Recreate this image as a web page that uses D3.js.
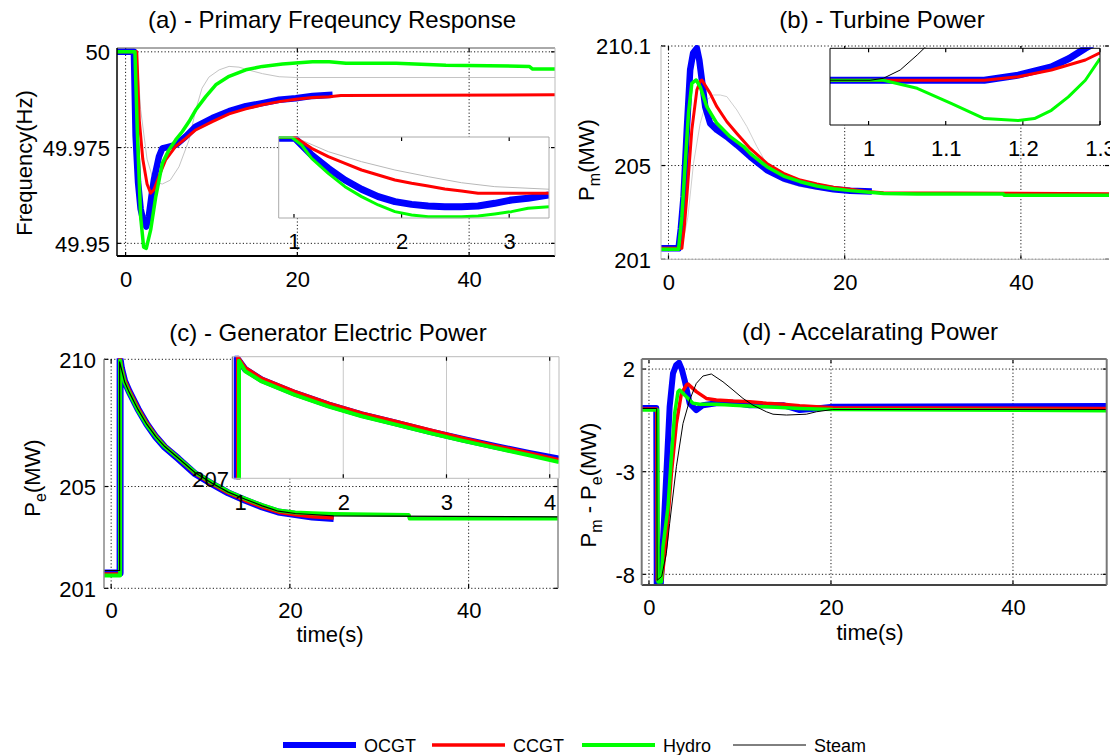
<!DOCTYPE html>
<html><head><meta charset="utf-8">
<script src="https://cdn.jsdelivr.net/npm/d3@7"></script>
<style>
body{margin:0;background:#fff}
svg{display:block}
text{font-family:"Liberation Sans",Arial,Helvetica,sans-serif;fill:#000}
</style>
</head><body><script>
// ---------------- DATA ----------------
const seriesNames = ["OCGT","CCGT","Hydro","Steam"];
const xTicksMain = [0,20,40];
const xTickLabelsMain = ["0","20","40"];

// (a) Primary frequency response [t (s), f (Hz)]
const freqTicks = [49.95,49.975,50];
const freqTickLabels = ["49.95","49.975","50"];
const freqOCGT = [[-1,50],[0.97,50],[1.17,49.978],[1.45,49.966],[1.75,49.959],[2.1,49.9555],[2.41,49.9544],[2.7,49.957],[3.0,49.962],[3.3,49.9666],[3.89,49.9727],[4.28,49.9748],[5.0,49.9752],[5.83,49.9757],[7.0,49.9779],[8.16,49.9805],[10.1,49.9827],[12.05,49.9845],[14.0,49.9858],[15.94,49.9866],[17.88,49.9875],[19.83,49.9879],[21.77,49.9885],[24.1,49.9888]];
const freqCCGT = [[-1,50],[1.3,50],[1.6,49.982],[2.0,49.972],[2.5,49.9655],[2.92,49.9631],[3.3,49.964],[3.89,49.9675],[4.66,49.9718],[5.83,49.9753],[7.0,49.9774],[8.16,49.9796],[10.1,49.9818],[12.05,49.9838],[14.0,49.9851],[15.94,49.9862],[17.88,49.987],[19.83,49.9876],[21.77,49.9881],[23.71,49.9883],[25.07,49.9886],[50,49.9888]];
const freqHydro = [[-1,50],[1.09,50],[1.36,49.9796],[1.75,49.957],[2.1,49.949],[2.41,49.9487],[2.92,49.9535],[3.5,49.962],[4.28,49.9709],[5.05,49.9744],[5.83,49.977],[6.61,49.9792],[7.39,49.9818],[8.16,49.9848],[9.33,49.9883],[10.5,49.9914],[12.05,49.9936],[14.0,49.9953],[15.94,49.9962],[18.27,49.9968],[21.77,49.9974],[23.71,49.9974],[25.66,49.997],[31.5,49.997],[37.3,49.9965],[47.0,49.9962],[47.4,49.9955],[50,49.9955]];
const freqSteam = [[-1,50],[1.3,50],[1.75,49.985],[2.5,49.972],[3.3,49.966],[4.28,49.9655],[5.2,49.9665],[6.22,49.970],[7.39,49.977],[8.16,49.9848],[8.9,49.9905],[9.7,49.9934],[10.9,49.9953],[12.05,49.9962],[13.2,49.996],[14.4,49.9952],[15.94,49.9943],[17.88,49.9935],[19.83,49.9933],[50,49.9933]];
// (a) inset
const insetFreqTicks = [1,2,3];
const insetFreqOCGT = [[0.858,49.9996],[1.009,49.9996],[1.071,49.9952],[1.164,49.9886],[1.319,49.9798],[1.474,49.9721],[1.628,49.966],[1.783,49.9611],[1.938,49.9578],[2.093,49.956],[2.247,49.9549],[2.402,49.9545],[2.557,49.9545],[2.711,49.9549],[2.866,49.9567],[3.021,49.9589],[3.175,49.96],[3.37,49.9622]];
const insetFreqCCGT = [[0.858,50.0003],[1.009,50.0003],[1.164,49.993],[1.319,49.9875],[1.474,49.9831],[1.628,49.9787],[1.783,49.9754],[1.938,49.9721],[2.093,49.9699],[2.247,49.9681],[2.402,49.9662],[2.557,49.9649],[2.711,49.9633],[2.866,49.9633],[3.37,49.9633]];
const insetFreqHydro = [[0.858,50.0003],[0.979,50.0003],[1.071,49.9952],[1.164,49.9864],[1.319,49.9765],[1.474,49.9677],[1.628,49.9611],[1.783,49.9556],[1.938,49.9512],[2.093,49.949],[2.247,49.9479],[2.557,49.9479],[2.711,49.9483],[2.866,49.9497],[3.021,49.9512],[3.175,49.9534],[3.37,49.9545]];
const insetFreqSteam = [[0.858,50.0003],[1.009,50.0003],[1.319,49.9908],[1.628,49.9842],[1.938,49.9787],[2.247,49.9743],[2.557,49.9703],[2.866,49.9677],[3.37,49.966]];

// (b) Turbine power [t, MW]
const powTicks = [201,205,210.1];
const powTickLabels = ["201","205","210.1"];
const powOCGT = [[-1,201.47],[1.14,201.47],[1.4,202.3],[1.71,203.67],[2.08,206.52],[2.46,209.08],[2.8,209.8],[3.22,210.0],[3.5,209.5],[3.79,208.65],[4.17,207.51],[4.73,206.8],[5.49,206.52],[6.63,206.23],[7.76,205.88],[9.27,205.38],[11.17,204.81],[13.06,204.45],[14.95,204.24],[16.84,204.1],[18.73,203.99],[20.62,203.92],[23.08,203.89]];
const powCCGT = [[-1,201.47],[1.52,201.47],[1.8,202.4],[2.08,203.67],[2.65,206.52],[3.22,208.22],[3.6,208.6],[3.79,208.65],[4.73,208.08],[5.49,207.51],[6.63,206.87],[7.76,206.37],[9.27,205.73],[11.17,205.09],[13.06,204.67],[14.95,204.38],[16.84,204.21],[18.73,204.07],[20.62,203.99],[22.52,203.89],[24.41,203.84],[50,203.8]];
const powHydro = [[-1,201.43],[1.14,201.43],[1.52,202.82],[1.9,205.09],[2.27,207.23],[2.65,208.51],[3.03,208.62],[3.14,208.65],[3.6,208.36],[4.35,207.51],[5.49,206.8],[7.0,206.23],[8.52,205.81],[9.27,205.52],[11.17,204.95],[13.06,204.55],[14.95,204.31],[16.84,204.13],[18.73,204.01],[20.62,203.93],[22.52,203.87],[24.41,203.81],[28.19,203.79],[38,203.79],[38.1,203.73],[50,203.73]];
const powSteam = [[-1,201.47],[1.5,201.47],[2.2,202.8],[2.84,205.09],[3.6,206.8],[4.35,207.8],[5.11,208.01],[5.87,208.01],[6.63,207.94],[7.76,207.37],[8.9,206.66],[10.03,205.81],[11.54,204.81],[13.06,204.31],[14.95,204.1],[16.84,203.99],[18.73,203.89],[20.62,203.84],[50,203.81]];
// (b) inset
const insetPowTicks = [1,1.1,1.2,1.3];
const insetPowOCGT = [[0.95,201.45],[1.15,201.45],[1.194,201.458],[1.237,201.471],[1.26,201.484],[1.281,201.5],[1.29,201.506]];
const insetPowCCGT = [[0.95,201.45],[1.15,201.45],[1.194,201.4556],[1.237,201.466],[1.281,201.4817],[1.30,201.493]];
const insetPowHydro = [[0.95,201.45],[1.019,201.45],[1.063,201.4374],[1.107,201.414],[1.15,201.39],[1.194,201.387],[1.215,201.39],[1.237,201.403],[1.259,201.424],[1.281,201.45],[1.30,201.484]];
const insetPowSteam = [[0.95,201.45],[1.002,201.45],[1.019,201.453],[1.041,201.466],[1.063,201.4895],[1.072,201.5],[1.08,201.51]];

// (c) Generator electric power [t, MW]
const elecTicks = [201,205,210];
const elecTickLabels = ["201","205","210"];
const elecOCGT = [[-0.8,201.6],[1.0,201.6],[1.0,210],[1.15,209.65],[1.5,209.15],[2.0,208.75],[3.0,208.05],[4.0,207.45],[5.0,206.95],[6.0,206.55],[7.5,206.1],[9.4,205.5],[11.3,205.1],[13.1,204.75],[15,204.46],[16.9,204.2],[18.7,204.0],[20.6,203.9],[22.5,203.8],[24.9,203.74]];
const elecCCGT = [[-0.8,201.55],[1.0,201.55],[1.0,210],[1.15,209.68],[1.5,209.18],[2.0,208.78],[3.0,208.08],[4.0,207.48],[5.0,206.98],[6.0,206.58],[7.5,206.12],[9.4,205.52],[11.3,205.11],[13.1,204.76],[15,204.46],[16.9,204.2],[18.7,204.0],[20.6,203.9],[22.5,203.82],[24.9,203.77]];
const elecHydro = [[-0.8,201.5],[1.0,201.5],[1.0,209.95],[1.15,209.6],[1.5,209.1],[2.0,208.7],[3.0,208.0],[4.0,207.42],[5.0,206.95],[6.0,206.56],[7.5,206.12],[9.4,205.55],[11.3,205.15],[13.1,204.8],[15,204.52],[16.9,204.27],[18.7,204.06],[20.6,203.98],[22.5,203.95],[24.9,203.92],[33.3,203.88],[33.4,203.74],[50,203.74]];
const elecSteam = [[-0.8,201.7],[0.95,201.7],[0.95,209.9],[1.15,209.62],[1.5,209.12],[2.0,208.72],[3.0,208.03],[4.0,207.44],[5.0,206.96],[6.0,206.57],[7.5,206.12],[9.4,205.54],[11.3,205.13],[13.1,204.78],[15,204.5],[16.9,204.24],[18.7,204.03],[20.6,203.94],[22.5,203.9],[24.9,203.85],[50,203.81]];
// (c) inset
const insetElecTicks = [1,2,3,4];
const insetElecYTick = [207];
const insetElecOCGT = [[0.925,206],[0.97,206],[0.97,209.97],[1.05,209.69],[1.21,209.43],[1.53,209.1],[1.86,208.81],[2.18,208.57],[2.5,208.37],[2.83,208.16],[3.15,207.97],[3.47,207.79],[3.8,207.62],[4.09,207.48]];
const insetElecCCGT = [[0.925,206],[0.98,206],[0.98,209.98],[1.05,209.72],[1.21,209.46],[1.53,209.13],[1.86,208.84],[2.18,208.6],[2.5,208.4],[2.83,208.19],[3.15,207.99],[3.47,207.8],[3.8,207.62],[4.09,207.45]];
const insetElecHydro = [[0.925,206],[0.99,206],[0.99,209.9],[1.05,209.64],[1.21,209.39],[1.53,209.06],[1.86,208.77],[2.18,208.53],[2.5,208.33],[2.83,208.12],[3.15,207.93],[3.47,207.75],[3.8,207.57],[4.09,207.4]];

// (d) Accelerating power [t, MW]
const accTicks = [-8,-3,2];
const accTickLabels = ["-8","-3","2"];
const accOCGT = [[-0.8,0.1],[0.8,0.1],[0.85,-8.45],[1.3,-8.45],[1.54,-6.34],[1.91,-3.09],[2.27,0.16],[2.64,1.79],[3.0,2.2],[3.3,2.31],[3.6,2.0],[3.92,1.46],[4.47,0.33],[5.2,0.0],[5.93,0.24],[7.4,0.33],[9.23,0.36],[11.07,0.24],[14.73,0.24],[16.56,0.0],[18.4,0.08],[20.2,0.16],[50.3,0.2]];
const accCCGT = [[-0.8,0.05],[0.85,0.05],[0.9,-8.29],[1.4,-8.29],[1.91,-6.34],[2.46,-3.09],[3.01,-0.65],[3.56,0.81],[4.11,1.22],[4.29,1.27],[5.2,0.9],[6.3,0.57],[7.4,0.49],[9.23,0.44],[11.07,0.41],[12.9,0.33],[14.73,0.29],[16.56,0.21],[20.2,0.11],[50.3,0.08]];
const accHydro = [[-0.8,0.0],[0.95,0.0],[1.0,-8.37],[1.36,-8.37],[1.54,-6.67],[2.09,-4.72],[2.46,-2.28],[2.82,-0.16],[3.19,0.9],[3.37,0.98],[4.11,0.65],[4.84,0.33],[5.57,0.29],[7.4,0.29],[9.23,0.24],[12.9,0.16],[16.56,0.08],[20.2,0.03],[50.3,-0.03]];
const accSteam = [[-0.8,0.08],[0.85,0.08],[0.9,-8.29],[1.4,-8.1],[1.9,-7.0],[2.27,-5.53],[3.01,-2.76],[3.74,-0.65],[4.47,0.49],[5.2,1.3],[5.93,1.66],[6.85,1.76],[8.13,1.38],[9.23,0.98],[10.33,0.57],[11.43,0.24],[12.9,-0.08],[13.63,-0.2],[15.1,-0.24],[17.3,-0.2],[18.4,-0.08],[20.2,0.03],[50.3,0.03]];

// ---------------- DRAWING ----------------
const W = 1110, H = 755;
const FS = 22;
const colors = {OCGT:"#0000ff", CCGT:"#ff0000", Hydro:"#00ff00", Steam:"#000000"};
const svg = d3.select("body").append("svg").attr("width", W).attr("height", H);
const defs = svg.append("defs");
let clipN = 0;

function area(cfg){
  const x = d3.scaleLinear().domain(cfg.xd).range([cfg.x0, cfg.x1]);
  const y = d3.scaleLinear().domain(cfg.yd).range([cfg.y1, cfg.y0]);
  const g = svg.append("g");
  if (cfg.bg) g.append("rect").attr("x",cfg.x0).attr("y",cfg.y0).attr("width",cfg.x1-cfg.x0).attr("height",cfg.y1-cfg.y0).attr("fill","#fff");
  const gs = cfg.gridStyle || {stroke:"#000", w:0.9, dash:"1.2,2.2"};
  (cfg.xGrid||[]).forEach(t=>{
    g.append("line").attr("x1",x(t)).attr("x2",x(t)).attr("y1",cfg.y0).attr("y2",cfg.y1)
      .attr("stroke",gs.stroke).attr("stroke-width",gs.w).attr("stroke-dasharray",gs.dash);
  });
  (cfg.yGrid||[]).forEach(v=>{
    g.append("line").attr("y1",y(v)).attr("y2",y(v)).attr("x1",cfg.x0).attr("x2",cfg.x1)
      .attr("stroke",gs.stroke).attr("stroke-width",gs.w).attr("stroke-dasharray",gs.dash);
  });
  (cfg.tickX||[]).forEach(t=>{
    g.append("line").attr("x1",x(t)).attr("x2",x(t)).attr("y1",cfg.y1).attr("y2",cfg.y1-4).attr("stroke","#000").attr("stroke-width",1.2);
    g.append("line").attr("x1",x(t)).attr("x2",x(t)).attr("y1",cfg.y0).attr("y2",cfg.y0+4).attr("stroke","#000").attr("stroke-width",1.2);
  });
  (cfg.tickY||[]).forEach(v=>{
    g.append("line").attr("y1",y(v)).attr("y2",y(v)).attr("x1",cfg.x0).attr("x2",cfg.x0+4).attr("stroke","#000").attr("stroke-width",1.2);
    g.append("line").attr("y1",y(v)).attr("y2",y(v)).attr("x1",cfg.x1).attr("x2",cfg.x1-4).attr("stroke","#000").attr("stroke-width",1.2);
  });
  const id = "clip" + (clipN++);
  defs.append("clipPath").attr("id",id).append("rect")
    .attr("x",cfg.x0).attr("y",cfg.y0-1).attr("width",cfg.x1-cfg.x0).attr("height",cfg.y1-cfg.y0+2);
  const lg = g.append("g").attr("clip-path","url(#"+id+")");
  const line = d3.line().x(d=>x(d[0])).y(d=>y(d[1]));
  cfg.series.forEach(s=>{
    lg.append("path").datum(s.data).attr("d",line).attr("fill","none")
      .attr("stroke",s.color).attr("stroke-width",s.w).attr("stroke-linejoin","round").attr("stroke-linecap","butt");
  });
  const b = cfg.border || {};
  const side = (x1,y1,x2,y2,st)=>{ if(st) g.append("line").attr("x1",x1).attr("y1",y1).attr("x2",x2).attr("y2",y2).attr("stroke",st[0]).attr("stroke-width",st[1]); };
  side(cfg.x0,cfg.y0,cfg.x1,cfg.y0,b.top);
  side(cfg.x0,cfg.y1,cfg.x1,cfg.y1,b.bottom);
  side(cfg.x0,cfg.y0,cfg.x0,cfg.y1,b.left);
  side(cfg.x1,cfg.y0,cfg.x1,cfg.y1,b.right);
  if (cfg.xLabels){
    const ax = d3.axisBottom(x).tickValues(cfg.xLabels.values).tickSize(0).tickPadding(0)
      .tickFormat((d,i)=>cfg.xLabels.text[i]);
    const ag = svg.append("g").attr("transform","translate(0,"+cfg.xLabels.base+")").call(ax);
    ag.select(".domain").remove();
    ag.attr("font-size",null).attr("font-family",null);
    ag.selectAll("text").attr("dy",null).attr("y",0).style("font-size",(cfg.xLabels.fs||FS)+"px");
  }
  if (cfg.yLabels){
    const ay = d3.axisLeft(y).tickValues(cfg.yLabels.values).tickSize(0).tickPadding(0)
      .tickFormat((d,i)=>cfg.yLabels.text[i]);
    const ag = svg.append("g").attr("transform","translate("+cfg.yLabels.right+",0)").call(ay);
    ag.select(".domain").remove();
    ag.attr("font-size",null).attr("font-family",null);
    ag.selectAll("text").attr("dy","0.36em").attr("x",0).style("font-size",(cfg.yLabels.fs||FS)+"px");
  }
  return {x,y,g};
}

function S(data,name,w,color){ return {data, color: color||colors[name], w}; }

// ---------- Panel (a) ----------
area({x0:117,x1:555,y0:48,y1:256,xd:[-1,50],yd:[49.9467,50.001],
  xGrid:xTicksMain, yGrid:freqTicks, tickX:xTicksMain, tickY:freqTicks,
  series:[S(freqSteam,"Steam",1,"#c4c4c4"),S(freqOCGT,"OCGT",6.5),S(freqCCGT,"CCGT",3),S(freqHydro,"Hydro",3.5)],
  border:{left:["#000",1.5],bottom:["#000",2],top:["#555",1],right:["#bbb",1]},
  xLabels:{values:xTicksMain,text:xTickLabelsMain,base:287},
  yLabels:{values:freqTicks,text:freqTickLabels,right:110}
});
area({x0:278.7,x1:549,y0:137,y1:218,xd:[0.858,3.37],yd:[49.947,50.0005],bg:true,
  tickX:insetFreqTicks,
  series:[S(insetFreqSteam,"Steam",1,"#b8b8b8"),S(insetFreqOCGT,"OCGT",7),S(insetFreqCCGT,"CCGT",3),S(insetFreqHydro,"Hydro",3)],
  border:{left:["#aaa",1],bottom:["#aaa",1],top:["#aaa",1],right:["#aaa",1]},
  xLabels:{values:insetFreqTicks,text:insetFreqTicks.map(String),base:249}
});

// ---------- Panel (b) ----------
area({x0:661,x1:1109,y0:46,y1:259.3,xd:[-0.85,50],yd:[201,210.1],
  xGrid:xTicksMain, yGrid:powTicks, tickX:xTicksMain, tickY:powTicks,
  series:[S(powSteam,"Steam",1,"#cfcfcf"),S(powOCGT,"OCGT",6.5),S(powCCGT,"CCGT",3),S(powHydro,"Hydro",3.5)],
  border:{left:["#bbb",1],bottom:["#bbb",1]},
  xLabels:{values:xTicksMain,text:xTickLabelsMain,base:290},
  yLabels:{values:powTicks,text:powTickLabels,right:651}
});
area({x0:830,x1:1100,y0:48.3,y1:125,xd:[0.95,1.3],yd:[201.38,201.5],bg:true,
  tickX:insetPowTicks,
  series:[S(insetPowOCGT,"OCGT",7),S(insetPowCCGT,"CCGT",3),S(insetPowHydro,"Hydro",3),S(insetPowSteam,"Steam",1)],
  border:{left:["#000",1],bottom:["#000",1],top:["#000",1],right:["#000",1]},
  xLabels:{values:insetPowTicks,text:insetPowTicks.map(String),base:156}
});

// ---------- Panel (c) ----------
area({x0:104,x1:558,y0:359.3,y1:588.3,xd:[-0.8,50],yd:[201,210],
  xGrid:xTicksMain, yGrid:elecTicks, tickX:xTicksMain, tickY:elecTicks,
  series:[S(elecOCGT,"OCGT",7),S(elecCCGT,"CCGT",4),S(elecHydro,"Hydro",4),S(elecSteam,"Steam",1.2)],
  border:{left:["#888",1.5],right:["#888",1.5]},
  xLabels:{values:xTicksMain,text:xTickLabelsMain,base:618},
  yLabels:{values:elecTicks,text:elecTickLabels,right:96}
});
area({x0:232.3,x1:559,y0:356.7,y1:478.3,xd:[0.925,4.09],yd:[207,210],bg:true,
  xGrid:[2,3,4], gridStyle:{stroke:"#c8c8c8",w:1,dash:null}, tickX:[2,3,4],
  series:[S(insetElecOCGT,"OCGT",6.5),S(insetElecCCGT,"CCGT",4),S(insetElecHydro,"Hydro",4)],
  border:{left:["#666",1],bottom:["#bbb",1],top:["#bbb",1],right:["#bbb",1]},
  xLabels:{values:insetElecTicks,text:insetElecTicks.map(String),base:510},
  yLabels:{values:insetElecYTick,text:["207"],right:229}
});

// ---------- Panel (d) ----------
area({x0:641.7,x1:1106.7,y0:359,y1:585,xd:[-0.8,50.3],yd:[-8.52,2.49],
  xGrid:xTicksMain, yGrid:accTicks, tickX:xTicksMain, tickY:accTicks,
  series:[S(accOCGT,"OCGT",6),S(accCCGT,"CCGT",3.5),S(accHydro,"Hydro",3.5),S(accSteam,"Steam",1)],
  border:{left:["#777",2],bottom:["#444",2],top:["#777",2],right:["#777",2]},
  xLabels:{values:xTicksMain,text:xTickLabelsMain,base:615},
  yLabels:{values:accTicks,text:accTickLabels,right:635}
});

// ---------- Titles & axis labels ----------
const TFS = 24;
function txt(x,y,s,fs,anchor){ return svg.append("text").attr("x",x).attr("y",y).attr("text-anchor",anchor||"middle").style("font-size",fs+"px").text(s); }
txt(332,28,"(a) - Primary Freqeuncy Response",TFS);
txt(882,28,"(b) - Turbine Power",TFS);
txt(328,341,"(c) - Generator Electric Power",TFS);
txt(870,340,"(d) - Accelarating Power",TFS);
txt(330,642,"time(s)",FS);
txt(870,640,"time(s)",FS);

svg.append("text").attr("transform","translate(32,163) rotate(-90)").attr("text-anchor","middle").style("font-size",FS+"px").text("Frequency(Hz)");
function subLabel(x,y,parts){
  const t = svg.append("text").attr("transform","translate("+x+","+y+") rotate(-90)").attr("text-anchor","middle").style("font-size",FS+"px");
  parts.forEach(p=>{
    const ts = t.append("tspan").text(p[0]);
    if (p[1]===1) ts.attr("dy",6).style("font-size","16px");
    if (p[1]===-1) ts.attr("dy",-6);
  });
}
subLabel(594,160,[["P",0],["m",1],["(MW)",-1]]);
subLabel(40,478,[["P",0],["e",1],["(MW)",-1]]);
subLabel(596,485,[["P",0],["m",1],[" - P",-1],["e",1],["(MW)",-1]]);

// ---------- Legend ----------
const legendItems = [
  {name:"OCGT", x:283, w:6},
  {name:"CCGT", x:432, w:3.5},
  {name:"Hydro", x:582, w:4},
  {name:"Steam", x:733, w:1}
];
const lgd = svg.append("g");
legendItems.forEach(it=>{
  lgd.append("line").attr("x1",it.x).attr("x2",it.x+73).attr("y1",745).attr("y2",745)
    .attr("stroke",colors[it.name]).attr("stroke-width",it.w);
  lgd.append("text").attr("x",it.x+81).attr("y",752).style("font-size","18px").text(it.name);
});
</script></body></html>
